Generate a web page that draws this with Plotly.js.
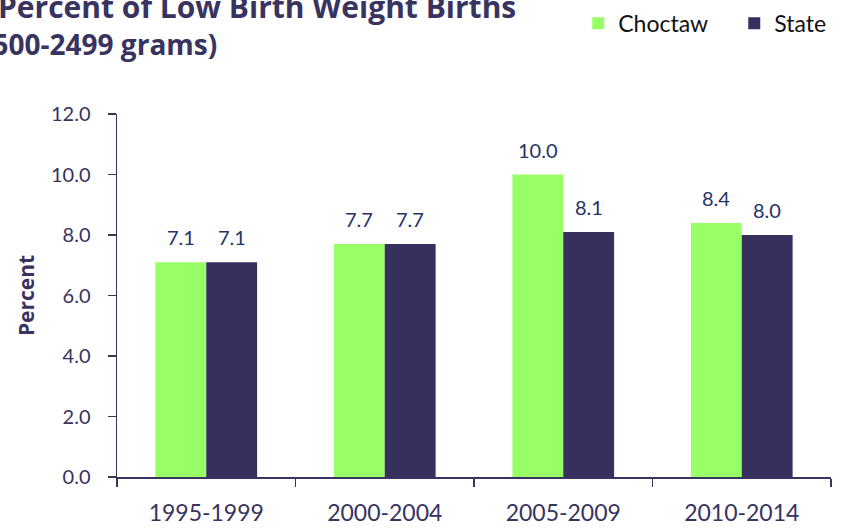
<!DOCTYPE html>
<html>
<head>
<meta charset="utf-8">
<script src="https://cdn.plot.ly/plotly-3.0.1.min.js"></script>
<style>html,body{margin:0;padding:0;background:#fff;}#chart{width:845px;height:528px;}</style>
</head>
<body>
<div id="chart"></div>
<script>
const periods = ["1995-1999", "2000-2004", "2005-2009", "2010-2014"];
const choctaw = [7.1, 7.7, 10.0, 8.4];
const state = [7.1, 7.7, 8.1, 8.0];
const yTicks = [0, 2, 4, 6, 8, 10, 12];
const yTickLabels = ["0.0", "2.0", "4.0", "6.0", "8.0", "10.0", "12.0"];

const FONT = "Lato, 'Open Sans', sans-serif";
const BOLD = "'Open Sans', Lato, sans-serif";
const AXIS = "#38335f";
const LABEL = "#1f3468";
const BARGAP = 0.43;

const series = [
  {name: "Choctaw", values: choctaw, color: "#99ff66"},
  {name: "State", values: state, color: "#37305f"}
];

const traces = series.map(s => ({
  type: "bar", name: s.name, x: periods, y: s.values,
  marker: {color: s.color}
}));

// value labels placed over each grouped bar via the category axis
const barW = (1 - BARGAP) / series.length;
const labelAnnotations = [];
series.forEach((s, j) => {
  s.values.forEach((v, i) => {
    labelAnnotations.push({
      text: v.toFixed(1), xref: "x", yref: "y",
      x: i + (j - (series.length - 1) / 2) * barW, y: v,
      xanchor: "center", yanchor: "bottom", yshift: 11, showarrow: false,
      font: {family: FONT, size: 20, color: LABEL}
    });
  });
});

const layout = {
  width: 845, height: 528,
  margin: {l: 117, r: 14, t: 114, b: 51, autoexpand: false},
  paper_bgcolor: "#fff", plot_bgcolor: "#fff",
  font: {family: FONT, color: AXIS},
  barmode: "group", bargap: BARGAP, bargroupgap: 0,
  showlegend: true,
  legend: {orientation: "h", x: 0.646, y: 1.25, xanchor: "left", yanchor: "middle",
           font: {family: FONT, size: 23, color: "#111"}, entrywidth: 111, traceorder: "normal"},
  xaxis: {type: "category", showline: true, linecolor: AXIS, linewidth: 1.5,
          ticks: "outside", tickson: "boundaries", ticklen: 8, tickcolor: AXIS, tickwidth: 1.5,
          ticklabelstandoff: 15,
          tickfont: {family: FONT, size: 23, color: AXIS}, showgrid: false},
  yaxis: {range: [0, 12], tickvals: yTicks, ticktext: yTickLabels,
          showline: true, linecolor: AXIS, linewidth: 1.5,
          ticks: "outside", ticklen: 8, tickcolor: AXIS, tickwidth: 1.5,
          ticklabelstandoff: 13,
          tickfont: {family: FONT, size: 20, color: AXIS}, showgrid: false, zeroline: false,
          title: {text: "<b>Percent</b>", font: {family: BOLD, size: 21, color: AXIS}, standoff: 10}},
  annotations: [
    {text: "<b>Percent of Low Birth Weight Births</b>", xref: "paper", yref: "paper",
     x: (518 - 117) / 714, y: 1.295, xanchor: "right", yanchor: "middle", showarrow: false,
     font: {family: BOLD, size: 30, color: AXIS}},
    {text: "<b>(1500-2499 grams)</b>", xref: "paper", yref: "paper",
     x: (219 - 117) / 714, y: 1.193, xanchor: "right", yanchor: "middle", showarrow: false,
     font: {family: BOLD, size: 28, color: AXIS}}
  ].concat(labelAnnotations)
};

Plotly.newPlot("chart", traces, layout, {displayModeBar: false, staticPlot: true});
</script>
</body>
</html>
